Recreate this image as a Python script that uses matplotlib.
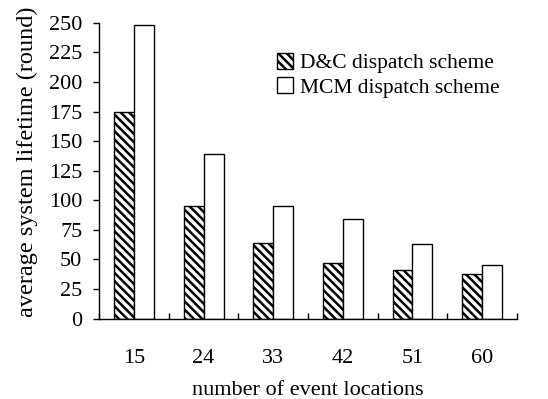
import matplotlib
matplotlib.use("Agg")
import matplotlib.pyplot as plt
import numpy as np

categories = ["15", "24", "33", "42", "51", "60"]
dc_values = [175, 95, 64, 47, 41, 38]
mcm_values = [248, 139, 95, 84, 63, 45]
yticks = [0, 25, 50, 75, 100, 125, 150, 175, 200, 225, 250]

plt.rcParams['font.family'] = ['Liberation Serif', 'DejaVu Serif']
plt.rcParams['hatch.linewidth'] = 1.8

fig = plt.figure(figsize=(5.48, 3.99), dpi=100)
ax = fig.add_axes([0.1807, 0.2013, 0.9434 - 0.1807, 0.943 - 0.2013])

x = np.arange(len(categories))
w = 0.287
ax.bar(x - w / 2, dc_values, w, facecolor='white', edgecolor='black',
       hatch='\\\\\\\\', linewidth=1.0, label='D&C dispatch scheme')
ax.bar(x + w / 2, mcm_values, w, facecolor='white', edgecolor='black',
       linewidth=1.0, label='MCM dispatch scheme')

ax.set_xlim(-0.5, len(categories) - 0.5)
ax.set_ylim(0, 250)
ax.set_yticks(yticks)
ax.set_yticklabels([str(v) for v in yticks], fontsize=16)
ax.set_xticks(x)
ax.set_xticklabels(categories, fontsize=16)
ax.set_xticks(np.arange(-0.5, len(categories)), minor=True)
ax.tick_params(axis='x', which='major', length=0, pad=22)
ax.tick_params(axis='x', which='minor', length=4, direction='in', width=1)
ax.tick_params(axis='y', which='major', length=4, direction='out', width=1, pad=8)

for s in ['top', 'right']:
    ax.spines[s].set_visible(False)
for s in ['left', 'bottom']:
    ax.spines[s].set_linewidth(1.0)

ax.set_xlabel('number of event locations', fontsize=16)
ax.xaxis.set_label_coords(0.5, -0.21)
ax.set_ylabel('average system lifetime (round)', fontsize=17.5)
ax.yaxis.set_label_coords(-0.145, 0.53)

ax.legend(loc='upper left', bbox_to_anchor=(0.40, 0.935), frameon=False,
          fontsize=15.5, handlelength=0.75, handleheight=0.75, handletextpad=0.3,
          labelspacing=0.2, borderpad=0)

fig.savefig('out.png', dpi=100)
